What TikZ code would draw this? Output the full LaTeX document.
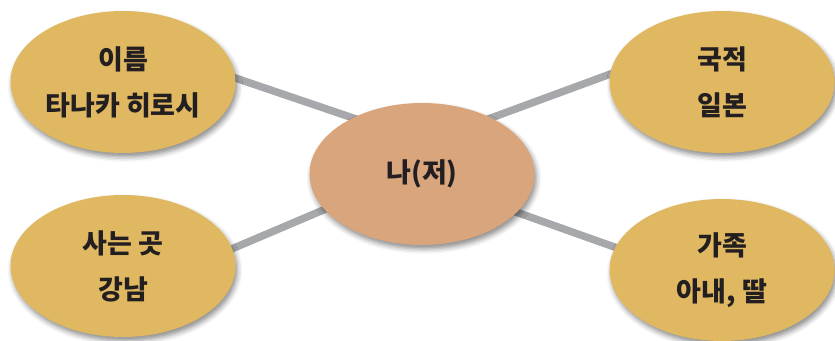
\documentclass[tikz,border=0pt]{standalone}
\usepackage{fontspec}
\newfontfamily\kr{Noto Sans CJK KR}
\usetikzlibrary{shapes.geometric,shadows.blur,backgrounds}
\definecolor{outerfill}{RGB}{224,184,98}
\definecolor{centerfill}{RGB}{217,165,125}
\definecolor{linkgray}{RGB}{166,168,171}
\definecolor{inktext}{RGB}{35,31,32}
\tikzset{
  bubble/.style={ellipse, fill=outerfill, minimum width=225pt, minimum height=142pt, inner sep=0pt,
    align=center, text=inktext, font={\kr\bfseries\fontsize{27}{46}\selectfont},
    blur shadow={shadow xshift=2pt, shadow yshift=-4pt, shadow blur radius=5pt, shadow opacity=45}},
  centerbubble/.style={bubble, fill=centerfill},
  link/.style={draw=linkgray, line width=7.5pt, shorten <=-6pt, shorten >=-6pt}
}
\begin{document}
\begin{tikzpicture}[x=1pt,y=-1pt]
\useasboundingbox (0,0) rectangle (835,340);
\node[centerbubble] (me) at (422,174) {나(저)};
\node[bubble] (name) at (123,82) {이름\\타나카 히로시};
\node[bubble] (nation) at (722,82) {국적\\일본};
\node[bubble] (home) at (123,266) {사는 곳\\강남};
\node[bubble] (family) at (722,270) {가족\\아내, 딸};
\begin{pgfonlayer}{background}
\draw[link] (name.2) -- (me.141);
\draw[link] (nation.176) -- (me.39);
\draw[link] (home.9) -- (me.200);
\draw[link] (family.168) -- (me.-22);
\end{pgfonlayer}
\end{tikzpicture}
\end{document}
